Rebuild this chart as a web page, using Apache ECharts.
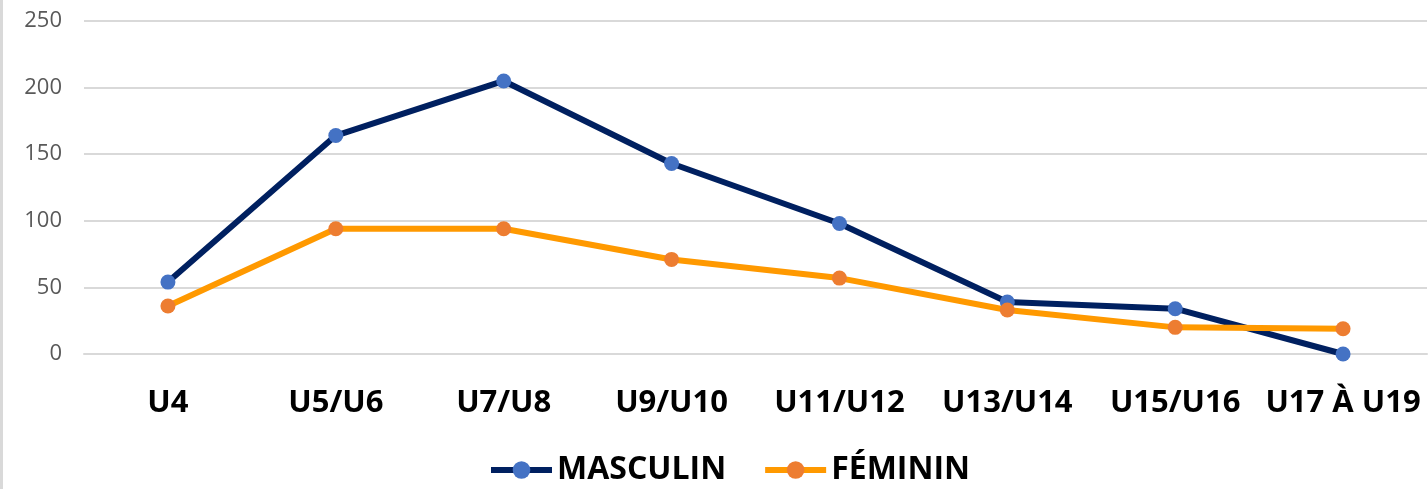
<!DOCTYPE html>
<html>
<head>
<meta charset="utf-8">
<script src="https://cdn.jsdelivr.net/npm/echarts@6/dist/echarts.min.js"></script>
<style>
  html, body { margin: 0; padding: 0; background: #ffffff; }
  #chart { width: 1428px; height: 489px; }
</style>
</head>
<body>
<div id="chart"></div>
<script>
const categories = ['U4', 'U5/U6', 'U7/U8', 'U9/U10', 'U11/U12', 'U13/U14', 'U15/U16', 'U17 À U19'];
const masculin = [54, 164, 205, 143, 98, 39, 34, 0];
const feminin = [36, 94, 94, 71, 57, 33, 20, 19];
const yMin = 0, yMax = 250, yStep = 50;

const chart = echarts.init(document.getElementById('chart'));
chart.setOption({
  animation: false,
  backgroundColor: '#ffffff',
  graphic: [{
    type: 'rect',
    shape: { x: 0, y: 0, width: 3, height: 489 },
    style: { fill: '#d9d9d9' }
  }],
  grid: { left: 84, right: 1, top: 21, bottom: 135, containLabel: false, outerBoundsMode: 'none' },
  legend: {
    left: 483,
    top: 449,
    itemWidth: 61,
    itemHeight: 22,
    itemGap: 36,
    textStyle: { fontFamily: 'Open Sans', fontWeight: 'bold', fontSize: 32, color: '#000000' },
    data: [
      { name: 'MASCULIN', lineStyle: { width: 6, color: '#002060' }, itemStyle: { color: '#4472C4' } },
      { name: 'FÉMININ', lineStyle: { width: 6, color: '#FF9900' }, itemStyle: { color: '#ED7D31' } }
    ]
  },
  xAxis: {
    type: 'category',
    data: categories,
    boundaryGap: true,
    axisLine: { show: true, lineStyle: { color: '#d9d9d9', width: 2 } },
    axisTick: { show: false },
    axisLabel: { margin: 34, fontFamily: 'Open Sans', fontWeight: 'bold', fontSize: 31, color: '#000000', interval: 0 }
  },
  yAxis: {
    type: 'value',
    min: yMin, max: yMax, interval: yStep,
    axisLine: { show: false },
    axisTick: { show: false },
    splitLine: { lineStyle: { color: '#d9d9d9', width: 2 } },
    axisLabel: { margin: 22, fontFamily: 'Open Sans', fontSize: 22, color: '#595959' }
  },
  series: [
    {
      name: 'MASCULIN',
      type: 'line',
      data: masculin,
      symbol: 'circle',
      symbolSize: 15,
      lineStyle: { color: '#002060', width: 6 },
      itemStyle: { color: '#4472C4' }
    },
    {
      name: 'FÉMININ',
      type: 'line',
      data: feminin,
      symbol: 'circle',
      symbolSize: 15,
      lineStyle: { color: '#FF9900', width: 6 },
      itemStyle: { color: '#ED7D31' }
    }
  ]
});
</script>
</body>
</html>
